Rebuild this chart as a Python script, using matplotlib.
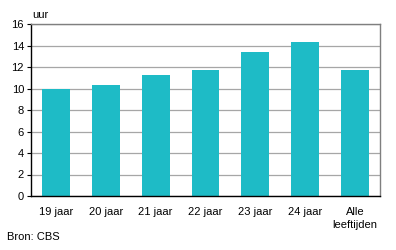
import matplotlib.pyplot as plt

plt.rcParams['font.family'] = ['Liberation Sans', 'DejaVu Sans']

categories = ["19 jaar", "20 jaar", "21 jaar", "22 jaar", "23 jaar", "24 jaar", "Alle\nleeftijden"]
hours = [10.0, 10.3, 11.3, 11.7, 13.4, 14.3, 11.7]
yticks = [0, 2, 4, 6, 8, 10, 12, 14, 16]

BAR_COLOR = "#1EBBC6"
GRID_COLOR = "#A6A6A6"
FS = 8

fig = plt.figure(figsize=(3.96, 2.5), dpi=100)
ax = fig.add_axes([31 / 396, 1 - 196 / 250, 349 / 396, 172 / 250])

x = range(len(categories))
ax.bar(x, hours, width=0.56, color=BAR_COLOR, zorder=3)

ax.set_xlim(-0.5, len(categories) - 0.5)
ax.set_ylim(0, 16)
ax.set_yticks(yticks)
ax.set_xticks(list(x))
ax.set_xticklabels(categories, fontsize=FS, linespacing=1.4)
ax.tick_params(axis="y", labelsize=FS, length=3, width=0.8, pad=2)
ax.tick_params(axis="x", length=0, pad=8)
ax.grid(axis="y", color=GRID_COLOR, linewidth=0.9, zorder=0)

ax.spines["left"].set_color("black")
ax.spines["bottom"].set_color("black")
ax.spines["left"].set_linewidth(1.0)
ax.spines["bottom"].set_linewidth(1.0)
ax.spines["bottom"].set_zorder(4)
for side in ["top", "right"]:
    ax.spines[side].set_color("#7F7F7F")
    ax.spines[side].set_linewidth(1.0)

fig.text(32 / 396, 1 - 15 / 250, "uur", fontsize=FS, va="center", ha="left")
fig.text(7 / 396, 1 - 237 / 250, "Bron: CBS", fontsize=FS, va="center", ha="left")

fig.savefig("out.png", dpi=100)
